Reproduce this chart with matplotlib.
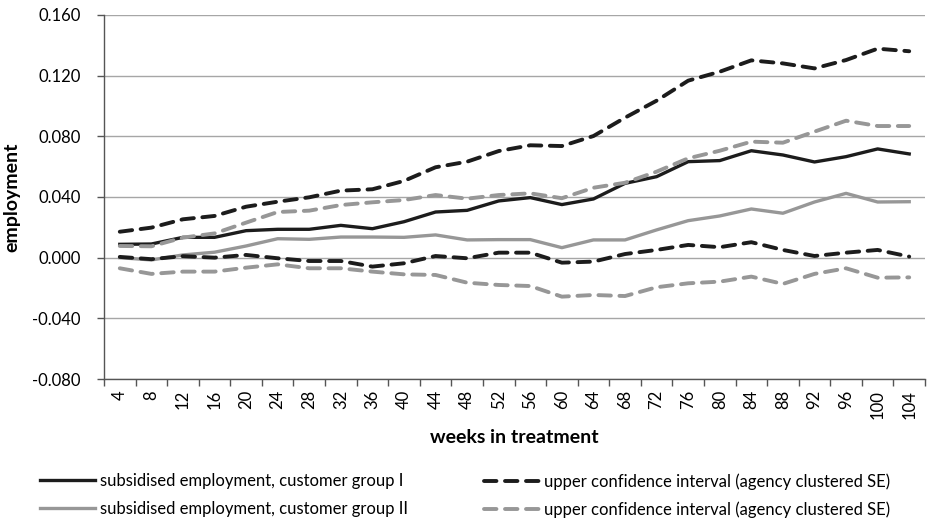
import matplotlib
matplotlib.use("Agg")
import matplotlib.pyplot as plt
from matplotlib.ticker import FuncFormatter, FixedLocator

plt.rcParams['font.family'] = ['Lato', 'DejaVu Sans']

weeks = list(range(4, 105, 4))

# point estimates
group1 = [0.0088, 0.0090, 0.0134, 0.0134, 0.0178, 0.0187, 0.0187, 0.0213, 0.0191, 0.0237,
          0.0301, 0.0312, 0.0374, 0.0396, 0.0350, 0.0387, 0.0490, 0.0534, 0.0633, 0.0640,
          0.0705, 0.0677, 0.0631, 0.0666, 0.0717, 0.0684]
group2 = [0.0000, -0.0015, 0.0018, 0.0036, 0.0077, 0.0125, 0.0121, 0.0136, 0.0136, 0.0134,
          0.0150, 0.0117, 0.0119, 0.0119, 0.0066, 0.0117, 0.0117, 0.0183, 0.0244, 0.0275,
          0.0321, 0.0293, 0.0367, 0.0424, 0.0367, 0.0369]

# confidence bands
g1_upper = [0.0171, 0.0198, 0.0253, 0.0275, 0.0336, 0.0369, 0.0398, 0.0442, 0.0451, 0.0506,
            0.0596, 0.0633, 0.0703, 0.0741, 0.0736, 0.0802, 0.0923, 0.1035, 0.1167, 0.1226,
            0.1301, 0.1281, 0.1248, 0.1303, 0.1378, 0.1361]
g1_lower = [0.0005, -0.0010, 0.0010, 0.0000, 0.0018, -0.0004, -0.0022, -0.0022, -0.0059, -0.0037,
            0.0011, -0.0004, 0.0033, 0.0033, -0.0033, -0.0026, 0.0024, 0.0051, 0.0084, 0.0069,
            0.0102, 0.0051, 0.0011, 0.0033, 0.0051, 0.0007]
g2_upper = [0.0077, 0.0075, 0.0132, 0.0160, 0.0231, 0.0301, 0.0310, 0.0347, 0.0365, 0.0380,
            0.0413, 0.0389, 0.0413, 0.0424, 0.0392, 0.0461, 0.0494, 0.0567, 0.0655, 0.0705,
            0.0765, 0.0758, 0.0831, 0.0903, 0.0868, 0.0868]
g2_lower = [-0.0070, -0.0107, -0.0092, -0.0092, -0.0066, -0.0044, -0.0070, -0.0070, -0.0092, -0.0110,
            -0.0114, -0.0165, -0.0180, -0.0187, -0.0257, -0.0246, -0.0253, -0.0195, -0.0169, -0.0158,
            -0.0125, -0.0173, -0.0107, -0.0070, -0.0132, -0.0130]

black = '#1c1c1c'
grey = '#979797'
dash = (0, (3.2, 2.2))

fig = plt.figure(figsize=(9.3, 5.2), dpi=100)
ax = fig.add_axes([104/930, 1-379/520, (925-104)/930, (379-15)/520])

x = list(range(len(weeks)))
h1, = ax.plot(x, group1, color=black, lw=2.4, solid_joinstyle='round')
h2, = ax.plot(x, group2, color=grey, lw=2.4, solid_joinstyle='round')
h3, = ax.plot(x, g1_upper, color=black, lw=2.8, linestyle=dash, dash_capstyle='round')
ax.plot(x, g1_lower, color=black, lw=2.8, linestyle=dash, dash_capstyle='round')
h4, = ax.plot(x, g2_upper, color=grey, lw=2.8, linestyle=dash, dash_capstyle='round')
ax.plot(x, g2_lower, color=grey, lw=2.8, linestyle=dash, dash_capstyle='round')

ax.set_xlim(-0.5, len(weeks) - 0.5)
ax.set_ylim(-0.08, 0.16)
ax.set_yticks([-0.08, -0.04, 0.0, 0.04, 0.08, 0.12, 0.16])
ax.yaxis.set_major_formatter(FuncFormatter(lambda v, p: ('%.3f' % v).replace('\u2212', '-')))
ax.grid(axis='y', color='#a6a6a6', lw=1.0)
ax.set_axisbelow(True)

ax.set_xticks(x)
ax.set_xticklabels([str(w) for w in weeks], rotation=90, fontsize=12)
ax.xaxis.set_minor_locator(FixedLocator([i - 0.5 for i in range(len(weeks) + 1)]))
ax.tick_params(axis='x', which='major', length=0, pad=8)
ax.tick_params(axis='x', which='minor', length=5, color='#555555', width=1)
ax.tick_params(axis='y', length=5, color='#555555', width=1, labelsize=12, pad=12)

for s in ['top', 'right']:
    ax.spines[s].set_visible(False)
for s in ['left', 'bottom']:
    ax.spines[s].set_color('#555555')
    ax.spines[s].set_linewidth(1.0)

ax.set_ylabel('employment', fontweight='bold', fontsize=14)
ax.yaxis.set_label_coords(-84/821, 0.5)
ax.set_xlabel('weeks in treatment', fontweight='bold', fontsize=14)
ax.xaxis.set_label_coords(0.5, -(429-379)/364)

leg_kw = dict(frameon=False, fontsize=12, handlelength=3.3, handletextpad=0.3,
              labelspacing=0.72, borderpad=0, borderaxespad=0, loc='upper left')
leg1 = fig.legend([h1, h2],
                  ['subsidised employment, customer group I',
                   'subsidised employment, customer group II'],
                  bbox_to_anchor=(40/930, 1-473/520), **leg_kw)
leg2 = fig.legend([h3, h4],
                  ['upper confidence interval (agency clustered SE)',
                   'upper confidence interval (agency clustered SE)'],
                  bbox_to_anchor=(484/930, 1-473/520), **leg_kw)

fig.savefig('out.png', dpi=100)
